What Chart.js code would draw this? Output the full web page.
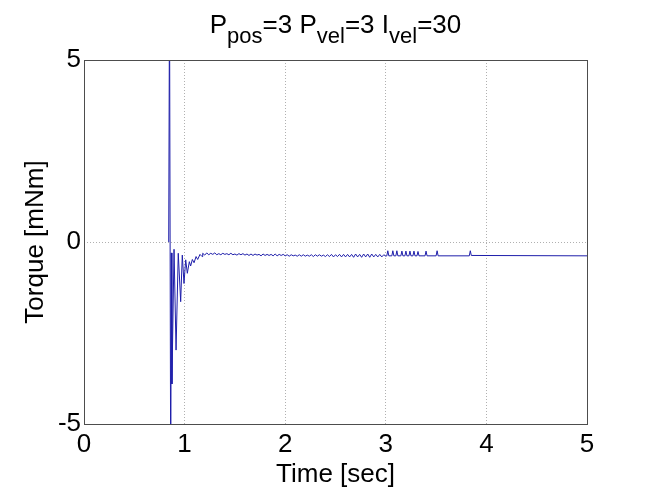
<!DOCTYPE html>
<html lang="en">
<head>
  <meta charset="UTF-8">
  <title>Torque step response</title>
  <script src="https://cdn.jsdelivr.net/npm/chart.js"></script>
  <style>
    body {
      margin: 0;
      background: #ffffff;
    }
    #wrap {
      position: relative;
      width: 649px;
      height: 488px;
    }
    /* Title with subscripts, drawn as html text over the canvas */
    #title {
      position: absolute;
      left: 84px;
      width: 503px;
      top: 11px;
      text-align: center;
      font-family: "Liberation Sans", Arial, sans-serif;
      font-size: 26px;
      line-height: 26px;
      color: #000;
      white-space: nowrap;
    }
    #title .sub {
      font-size: 22px;
      position: relative;
      top: 10px;
    }
  </style>
</head>
<body>
  <div id="wrap">
    <canvas id="torqueChart" width="649" height="488"></canvas>
    <div id="title">P<span class="sub">pos</span>=3 P<span class="sub">vel</span>=3 I<span class="sub">vel</span>=30</div>
  </div>

  <script>
    // Start-up transient: time [sec] and torque [mNm]
    const transientTime = [0.842, 0.850, 0.862, 0.868, 0.874, 0.895, 0.915, 0.937, 0.961, 0.977,
      0.994, 1.011, 1.027, 1.047, 1.060, 1.077, 1.094, 1.114, 1.130, 1.153, 1.173];
    const transientTorque = [0, 7, -7, -0.3, -3.9, -0.2, -2.97, -0.31, -1.64, -0.36,
      -1.14, -0.49, -0.86, -0.54, -0.66, -0.48, -0.57, -0.40, -0.48, -0.34, -0.40];

    // Ripple while settling, sampled every 20 ms from 1.18 s
    const rippleStart = 1.18;
    const rippleStep = 0.02;
    const rippleTorque = [
      -0.31, -0.36, -0.30, -0.35, -0.31, -0.34, -0.30, -0.35, -0.32, -0.35, -0.31,
      -0.34, -0.32, -0.35, -0.31, -0.35, -0.33, -0.36, -0.32, -0.35, -0.32, -0.36,
      -0.33, -0.37, -0.33, -0.37, -0.33, -0.36, -0.34, -0.38, -0.33, -0.37,
      -0.34, -0.37, -0.34, -0.38, -0.33, -0.38, -0.34, -0.37, -0.34, -0.38,
      -0.35, -0.39, -0.35, -0.38, -0.36, -0.39, -0.35, -0.39, -0.35, -0.39,
      -0.36, -0.39, -0.35, -0.40, -0.35, -0.39, -0.35, -0.39, -0.36, -0.40,
      -0.35, -0.40, -0.34, -0.41, -0.35, -0.40, -0.34, -0.41, -0.34, -0.41,
      -0.34, -0.41, -0.34, -0.42, -0.33, -0.41, -0.34, -0.42, -0.33, -0.41,
      -0.33, -0.42, -0.33, -0.41, -0.34, -0.41, -0.34, -0.41, -0.35, -0.39
    ];

    // Late small spikes on a flat level, then flat to the end
    const tailTime = [3.01, 3.02, 3.03, 3.06, 3.07, 3.08, 3.10, 3.11, 3.12, 3.15, 3.16, 3.17,
      3.19, 3.20, 3.21, 3.23, 3.24, 3.25, 3.27, 3.28, 3.29, 3.31, 3.32, 3.33,
      3.39, 3.40, 3.41, 3.50, 3.51, 3.52, 3.83, 3.84, 3.85, 5.00];
    const tailTorque = [-0.38, -0.24, -0.38, -0.38, -0.24, -0.38, -0.38, -0.24, -0.38, -0.38, -0.25, -0.38,
      -0.38, -0.25, -0.38, -0.38, -0.25, -0.38, -0.38, -0.25, -0.38, -0.38, -0.26, -0.38,
      -0.38, -0.25, -0.38, -0.38, -0.24, -0.38, -0.38, -0.24, -0.37, -0.38];

    const xTicks = [0, 1, 2, 3, 4, 5];
    const yTicks = [-5, 0, 5];

    const FONT = '"Liberation Sans", Arial, sans-serif';

    // build the point list for the line
    const points = [];
    transientTime.forEach((t, i) => points.push({ x: t, y: transientTorque[i] }));
    rippleTorque.forEach((v, i) => points.push({ x: +(rippleStart + i * rippleStep).toFixed(3), y: v }));
    tailTime.forEach((t, i) => points.push({ x: t, y: tailTorque[i] }));

    // box around the axes, matlab style
    const frame = {
      id: 'frame',
      afterDatasetsDraw(chart) {
        const a = chart.chartArea;
        const ctx = chart.ctx;
        ctx.save();
        ctx.strokeStyle = '#4d4d4d';
        ctx.lineWidth = 1;
        ctx.strokeRect(Math.round(a.left) + 0.5, Math.round(a.top) + 0.5,
          Math.round(a.right - a.left), Math.round(a.bottom - a.top));
        ctx.restore();
      }
    };

    function gridColor(ctx, ticks) {
      const v = ctx.tick ? ctx.tick.value : null;
      if (v === ticks[0] || v === ticks[ticks.length - 1]) return 'rgba(0,0,0,0)';
      return '#b0b0b0';
    }

    new Chart(document.getElementById('torqueChart').getContext('2d'), {
      type: 'line',
      data: {
        datasets: [{
          data: points,
          borderColor: 'rgb(30,30,170)',
          borderWidth: 1,
          pointRadius: 0,
          tension: 0,
          fill: false
        }]
      },
      options: {
        responsive: false,
        animation: false,
        devicePixelRatio: 1,
        layout: { padding: { left: 0, right: 62, top: 60, bottom: 0 } },
        plugins: {
          legend: { display: false },
          tooltip: { enabled: false }
        },
        scales: {
          x: {
            type: 'linear',
            min: 0,
            max: 5,
            afterFit(scale) { scale.height = 64; },
            afterBuildTicks(scale) { scale.ticks = xTicks.map(v => ({ value: v })); },
            ticks: {
              color: '#000',
              font: { family: FONT, size: 26 },
              padding: 5,
              maxRotation: 0
            },
            grid: {
              color: ctx => gridColor(ctx, xTicks),
              drawTicks: false,
              lineWidth: 1
            },
            border: { display: false, dash: [1, 2] },
            title: {
              display: true,
              text: 'Time [sec]',
              color: '#000',
              font: { family: FONT, size: 26 },
              padding: { top: 0, bottom: -2 }
            }
          },
          y: {
            min: -5,
            max: 5,
            afterFit(scale) { scale.width = 84; },
            afterBuildTicks(scale) { scale.ticks = yTicks.map(v => ({ value: v })); },
            ticks: {
              color: '#000',
              font: { family: FONT, size: 26 },
              padding: 3
            },
            grid: {
              color: ctx => gridColor(ctx, yTicks),
              drawTicks: false,
              lineWidth: 1
            },
            border: { display: false, dash: [1, 2] },
            title: {
              display: true,
              text: 'Torque [mNm]',
              color: '#000',
              font: { family: FONT, size: 26 },
              padding: { top: 20, bottom: 0 }
            }
          }
        }
      },
      plugins: [frame]
    });
  </script>
</body>
</html>
